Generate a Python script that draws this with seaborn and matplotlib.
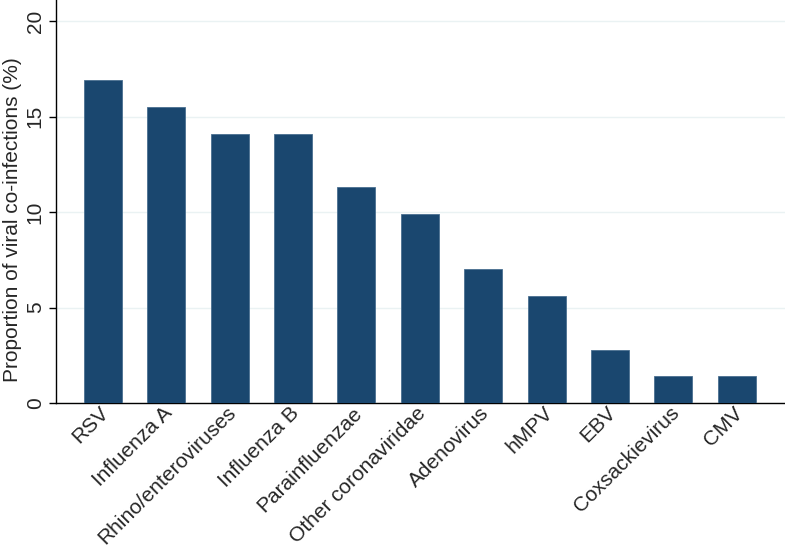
import pandas as pd
import seaborn as sns
import matplotlib.pyplot as plt
from matplotlib.transforms import ScaledTranslation

viruses = ['RSV', 'Influenza A', 'Rhino/enteroviruses', 'Influenza B', 'Parainfluenzae',
           'Other coronaviridae', 'Adenovirus', 'hMPV', 'EBV', 'Coxsackievirus', 'CMV']
proportion = [16.9, 15.5, 14.1, 14.1, 11.3, 9.9, 7.0, 5.6, 2.8, 1.4, 1.4]
yticks = [0, 5, 10, 15, 20]

df = pd.DataFrame({'virus': viruses, 'pct': proportion})

sns.set_theme(style='white')
plt.rcParams['font.family'] = ['Liberation Sans', 'DejaVu Sans']
fs = 15

fig = plt.figure(figsize=(7.85, 5.48), dpi=100)
ax = fig.add_axes([0.0713, 0.2646, 0.9287, 0.7354])

sns.barplot(data=df, x='virus', y='pct', color='#1a476f', saturation=1,
            width=0.6, edgecolor='#4a6f90', linewidth=0.6, ax=ax, zorder=3)

ax.set_ylim(0, 21.1)
ax.set_xlim(-0.74, 10.76)
ax.set_yticks(yticks)
ax.set_yticklabels([str(t) for t in yticks], rotation=90, va='center', fontsize=fs)
ax.grid(axis='y', color='#eaf2f3', linewidth=1, zorder=0)
ax.tick_params(axis='y', length=5, width=1, color='black', left=True, pad=3)
ax.tick_params(axis='x', length=0, pad=5)
plt.setp(ax.get_xticklabels(), rotation=45, ha='right', va='center',
         rotation_mode='anchor', fontsize=fs)
# nudge the slanted labels a little to the right, like the original
shift = ScaledTranslation(3 / 100, 0, fig.dpi_scale_trans)
for lab in ax.get_xticklabels():
    lab.set_transform(lab.get_transform() + shift)

for s in ['top', 'right']:
    ax.spines[s].set_visible(False)
for s in ['left', 'bottom']:
    ax.spines[s].set_color('black')
    ax.spines[s].set_linewidth(1)

ax.set_xlabel('')
ax.set_ylabel('Proportion of viral co-infections (%)', fontsize=fs)
ax.yaxis.set_label_coords(-0.047, 0.455)

fig.savefig('out.png', dpi=100)
